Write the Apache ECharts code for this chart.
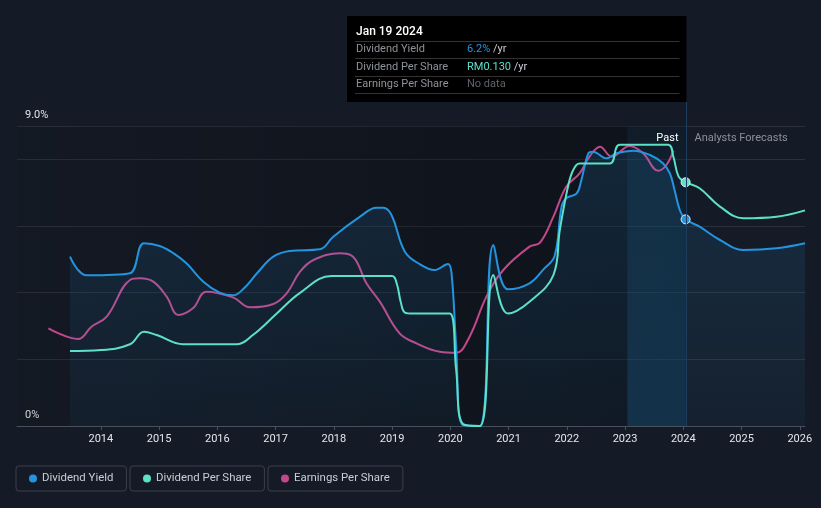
<!DOCTYPE html>
<html><head><meta charset="utf-8">
<script src="https://cdn.jsdelivr.net/npm/echarts@6/dist/echarts.min.js"></script>
<style>html,body{margin:0;padding:0;background:#151b26;}#c{width:821px;height:508px;}</style>
</head><body><div id="c"></div>
<script>
// Dividend Yield (%), [year, value]
const yieldData = [
 [2013.47,5.08],[2013.6,4.7],[2013.75,4.52],[2014.1,4.53],[2014.5,4.58],[2014.74,5.48],
 [2015.01,5.40],[2015.25,5.18],[2015.47,4.88],[2015.76,4.33],[2016.04,4.00],[2016.27,3.92],[2016.44,4.10],
 [2016.7,4.62],[2016.96,5.08],[2017.24,5.25],[2017.76,5.30],[2017.99,5.68],[2018.45,6.28],
 [2018.73,6.55],[2018.85,6.55],[2018.99,6.33],[2019.22,5.23],[2019.48,4.85],[2019.73,4.68],[2019.96,4.86],
 [2020.02,4.6],[2020.1,2.4],[2020.2,0.05],[2020.5,0],[2020.74,5.43],[2020.99,4.10],[2021.36,4.28],[2021.6,4.7],[2021.79,5.1],
 [2021.91,6.58],[2021.99,6.83],[2022.17,6.98],[2022.25,7.38],[2022.37,8.18],[2022.45,8.23],[2022.68,8.03],
 [2022.85,8.18],[2023.14,8.26],[2023.43,8.13],[2023.65,7.88],[2023.77,7.58],[2023.85,7.08],[2023.94,6.48],
 [2024.04,6.2],[2024.28,5.98],[2024.63,5.58],[2025.03,5.28],[2025.6,5.33],[2026.09,5.48]
];
// Dividend Per Share (RM), [year, value]
const dpsData = [
 [2013.47,0.040],[2014.0,0.0405],[2014.5,0.0436],[2014.74,0.0503],[2014.96,0.0485],[2015.41,0.0436],
 [2016.33,0.0436],[2016.61,0.0485],[2017.02,0.060],[2017.42,0.071],[2017.96,0.080],[2019.0,0.080],
 [2019.08,0.076],[2019.15,0.066],[2019.22,0.0605],[2019.35,0.060],[2019.99,0.060],[2020.1,0.030],
 [2020.22,0.001],[2020.51,0],[2020.74,0.0805],[2020.99,0.060],
 [2021.36,0.0663],[2021.77,0.0805],[2021.88,0.1045],[2022.02,0.1276],[2022.11,0.1365],[2022.22,0.140],
 [2022.74,0.140],[2022.91,0.150],[2023.74,0.150],[2023.83,0.1436],[2023.92,0.133],[2024.04,0.130],
 [2024.28,0.1268],[2024.63,0.117],[2025.03,0.1108],[2025.6,0.1116],[2026.09,0.115]
];
// Earnings Per Share (RM), [year, value]
const epsData = [
 [2013.1,0.0586],[2013.61,0.0522],[2013.84,0.0596],[2014.1,0.0656],[2014.5,0.0876],[2014.67,0.0886],
 [2014.9,0.0866],[2015.13,0.0776],[2015.33,0.0666],[2015.58,0.0706],[2015.81,0.0806],[2016.27,0.0772],
 [2016.56,0.0712],[2016.96,0.0732],[2017.19,0.0796],[2017.42,0.0926],[2017.65,0.0996],[2018.1,0.1036],
 [2018.33,0.1016],[2018.56,0.0856],[2018.79,0.0746],[2019.13,0.0556],[2019.42,0.0496],[2019.82,0.0446],
 [2020.1,0.044],[2020.33,0.0536],[2020.62,0.0776],[2020.91,0.0936],[2021.36,0.1076],[2021.54,0.110],
 [2021.77,0.1256],[2021.99,0.1436],[2022.22,0.1516],[2022.39,0.1616],[2022.57,0.1676],[2022.77,0.1616],
 [2023.08,0.168],[2023.31,0.1636],[2023.57,0.1532],[2023.71,0.1566],[2023.83,0.1652]
];
const xTicks = [2014,2015,2016,2017,2018,2019,2020,2021,2022,2023,2024,2025,2026];
const yTickLabels = {0:'0%', 9:'9.0%'};
const seriesNames = ['Dividend Yield','Dividend Per Share','Earnings Per Share'];
const colors = ['#2394df','#5ce0c8','#c2488b'];
const nowYear = 2024.04;
const pastBandStart = 2023.04;
const tipDate = 'Jan 19 2024';
const tipYield = '6.2%';
const tipDps = 'RM0.130';

const FONT = 'Roboto, "Noto Sans", sans-serif';
const chart = echarts.init(document.getElementById('c'));

function markDot(arr, color) {
  return arr.map(p => p[0] === nowYear ? {value: p, symbol: 'circle', symbolSize: 9,
    itemStyle: {color: color, borderColor: '#e8eef5', borderWidth: 1}} : p);
}

const legendBase = {
  icon: 'circle', itemWidth: 8, itemHeight: 8, top: 466, orient: 'horizontal',
  borderColor: '#3a3f4a', borderWidth: 1, borderRadius: 3, padding: [7, 13, 7, 13],
  textStyle: {color: '#c9ccd2', fontSize: 11.4, fontFamily: FONT}, selectedMode: false
};

const SMOOTH = 0.4;
const line = (i, axis, data, z, extra) => Object.assign({
  type: 'line', name: seriesNames[i], yAxisIndex: axis, data: data,
  smooth: SMOOTH, symbol: 'none', showSymbol: true, z: z,
  lineStyle: {color: colors[i], width: 2}, itemStyle: {color: colors[i]}
}, extra || {});

chart.setOption({
  backgroundColor: '#151b26',
  animation: false,
  grid: {left: 17, right: 16, top: 126, bottom: 82},
  legend: [
    Object.assign({}, legendBase, {data: [seriesNames[0]], left: 16}),
    Object.assign({}, legendBase, {data: [seriesNames[1]], left: 130}),
    Object.assign({}, legendBase, {data: [seriesNames[2]], left: 268})
  ],
  xAxis: {
    type: 'value', min: 2012.56, max: 2026.09,
    axisLine: {lineStyle: {color: '#4a505b'}},
    axisTick: {customValues: xTicks, length: 4, lineStyle: {color: '#4a505b'}},
    axisLabel: {customValues: xTicks, formatter: v => String(v), color: '#e4e6ea', fontSize: 11, fontFamily: FONT, margin: 8},
    splitLine: {show: false}
  },
  yAxis: [
    {type: 'value', min: 0, max: 9, interval: 2,
     axisLine: {show: false}, axisTick: {show: false},
     splitLine: {lineStyle: {color: '#2b303a'}},
     axisLabel: {inside: true, margin: 8, verticalAlign: 'bottom', padding: [0,0,5,0],
       formatter: v => yTickLabels[v] || '', color: '#e0e2e6', fontSize: 11, fontFamily: FONT}},
    {type: 'value', min: 0, max: 0.16, show: false, splitLine: {show: false}},
    {type: 'value', min: 0, max: 0.18, show: false, splitLine: {show: false}}
  ],
  series: [
    {type: 'line', name: '_bg', data: [], z: 1, silent: true,
     markArea: {silent: true, data: [
       [{xAxis: 2012.56, itemStyle: {color: {type: 'linear', x: 0, y: 0, x2: 1, y2: 0,
          colorStops: [{offset: 0, color: 'rgba(0,0,0,0.08)'}, {offset: 1, color: 'rgba(0,0,0,0.32)'}]}}},
        {xAxis: nowYear}],
       [{xAxis: pastBandStart, itemStyle: {color: {type: 'linear', x: 0, y: 0, x2: 0, y2: 1,
          colorStops: [{offset: 0, color: 'rgba(35,148,223,0.07)'}, {offset: 1, color: 'rgba(35,148,223,0.20)'}]}}},
        {xAxis: nowYear}]
     ]}},
    line(0, 0, markDot(yieldData, colors[0]), 4, {
     areaStyle: {origin: 'start', color: {type: 'linear', x: 0, y: 0, x2: 0, y2: 1,
       colorStops: [{offset: 0, color: 'rgba(35,148,223,0.22)'}, {offset: 1, color: 'rgba(35,148,223,0.07)'}]}}}),
    line(1, 1, markDot(dpsData, colors[1]), 5),
    line(2, 2, epsData, 3)
  ]
});

const nowX = Math.round(chart.convertToPixel({xAxisIndex: 0}, nowYear)) + 0.5;
const topY = chart.convertToPixel({yAxisIndex: 0}, 9);
const baseY = chart.convertToPixel({yAxisIndex: 0}, 0);
const tipX = 347, tipY = 16, tipW = nowX - 347, tipH = 86;
const F = '11px ' + FONT;
const lbl = {fill: '#8e9299', font: F, verticalAlign: 'middle'};
const sep = y => ({type: 'line', z: 21, shape: {x1: tipX + 8, y1: y + 0.5, x2: tipX + tipW - 7, y2: y + 0.5},
  style: {stroke: '#333', lineWidth: 1}});
chart.setOption({
  graphic: [
    {type: 'line', z: 10, shape: {x1: nowX, y1: tipY + tipH, x2: nowX, y2: baseY},
     style: {stroke: '#1e3d5e', lineWidth: 1}},
    {type: 'text', z: 10, x: nowX - 8, y: topY + 12.5, style: {text: 'Past', fill: '#ffffff', font: F, align: 'right', verticalAlign: 'middle'}},
    {type: 'text', z: 10, x: nowX + 8, y: topY + 12.5, style: {text: 'Analysts Forecasts', fill: '#8b9099', font: F, align: 'left', verticalAlign: 'middle'}},
    {type: 'rect', z: 20, shape: {x: tipX, y: tipY, width: tipW, height: tipH}, style: {fill: '#000'}},
    {type: 'text', z: 21, x: tipX + 9, y: tipY + 15.5, style: {text: tipDate, fill: '#fff', font: '500 12px ' + FONT, verticalAlign: 'middle'}},
    sep(41), sep(58), sep(76), sep(93),
    {type: 'text', z: 21, x: tipX + 9, y: 49.5, style: Object.assign({text: seriesNames[0]}, lbl)},
    {type: 'text', z: 21, x: tipX + 9, y: 67, style: Object.assign({text: seriesNames[1]}, lbl)},
    {type: 'text', z: 21, x: tipX + 9, y: 84.5, style: Object.assign({text: seriesNames[2]}, lbl)},
    {type: 'text', z: 21, x: tipX + 120, y: 49.5, style: {text: '{a|' + tipYield + '} {b|/yr}', verticalAlign: 'middle', font: F,
      rich: {a: {fill: colors[0], font: F}, b: {fill: '#c9ccd2', font: F}}}},
    {type: 'text', z: 21, x: tipX + 120, y: 67, style: {text: '{a|' + tipDps + '} {b|/yr}', verticalAlign: 'middle', font: F,
      rich: {a: {fill: colors[1], font: F}, b: {fill: '#c9ccd2', font: F}}}},
    {type: 'text', z: 21, x: tipX + 120, y: 84.5, style: {text: 'No data', fill: '#5f636b', font: F, verticalAlign: 'middle'}}
  ]
});
</script></body></html>
